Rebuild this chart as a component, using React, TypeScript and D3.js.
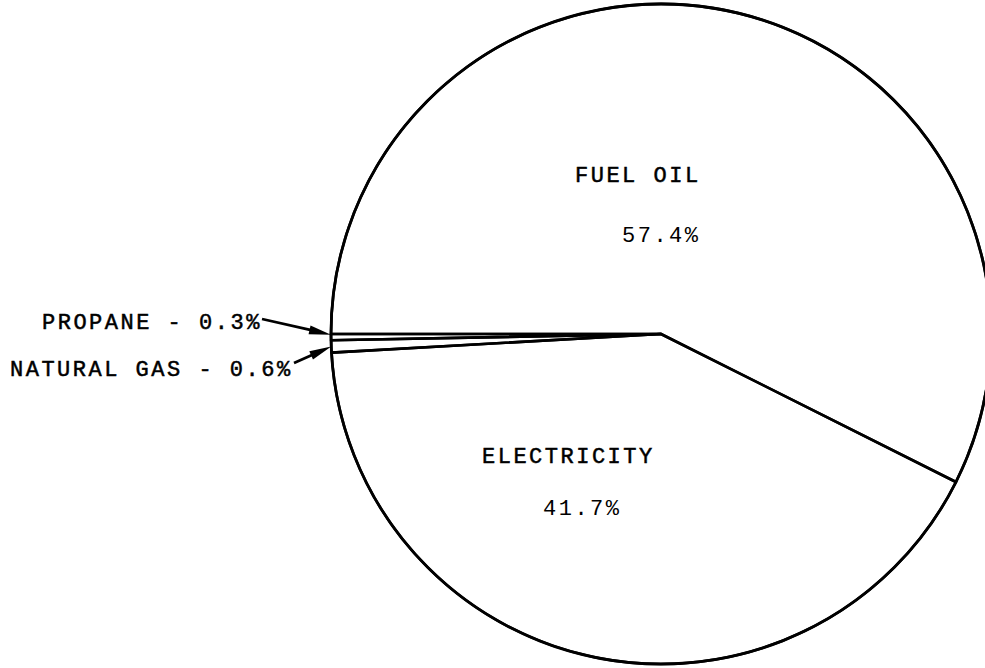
import React, { useEffect, useRef } from "react";
import * as d3 from "d3";

// fuel shares (percent)
const categories = ["FUEL OIL", "ELECTRICITY", "NATURAL GAS", "PROPANE"];
const shares = [57.4, 41.7, 0.6, 0.3];
const pctLabels = ["57.4%", "41.7%", "0.6%", "0.3%"];

const WIDTH = 985;
const HEIGHT = 668;

export default function App() {
  const svgRef = useRef<SVGSVGElement | null>(null);

  useEffect(() => {
    if (!svgRef.current) return;
    const svgEl = d3.select(svgRef.current);
    svgEl.selectAll("*").remove();

    const cx = 661;
    const cy = 334;
    const radius = 330;
    const font = "'Liberation Mono', 'DejaVu Sans Mono', monospace";

    const svg = svgEl
      .attr("width", WIDTH)
      .attr("height", HEIGHT)
      .attr("viewBox", `0 0 ${WIDTH} ${HEIGHT}`);

    svg.append("rect").attr("width", WIDTH).attr("height", HEIGHT).attr("fill", "#fff");

    const g = svg.append("g").attr("transform", `translate(${cx},${cy})`);

    // start at 9 o'clock and go clockwise, fuel oil first
    const pie = d3
      .pie<number>()
      .value((d) => d)
      .sort(null)
      .startAngle(-Math.PI / 2)
      .endAngle((3 * Math.PI) / 2);
    const arcs = pie(shares);

    const arc = d3.arc<d3.PieArcDatum<number>>().innerRadius(0).outerRadius(radius);

    g.selectAll("path.slice")
      .data(arcs)
      .enter()
      .append("path")
      .attr("class", "slice")
      .attr("d", arc)
      .attr("fill", "none")
      .attr("stroke", "#000")
      .attr("stroke-width", 2.6)
      .attr("stroke-linejoin", "round");

    g.append("circle")
      .attr("r", radius)
      .attr("fill", "none")
      .attr("stroke", "#000")
      .attr("stroke-width", 2.8);

    // typewriter look: words a bit heavier than the figures
    const textStyle = (
      sel: d3.Selection<SVGTextElement, unknown, null, undefined>,
      heavy: boolean
    ) =>
      sel
        .attr("fill", "#000")
        .attr("stroke", heavy ? "#000" : "none")
        .attr("stroke-width", 0.5)
        .style("font-family", font)
        .style("font-size", "22px")
        .style("letter-spacing", "2.5px");

    // labels inside the big slices
    const inner = [
      { text: categories[0], x: cx - 86, y: 182, heavy: true },
      { text: pctLabels[0], x: cx - 39, y: 242, heavy: false },
      { text: categories[1], x: cx - 179, y: 463, heavy: true },
      { text: pctLabels[1], x: cx - 118, y: 515, heavy: false },
    ];
    inner.forEach((d) => {
      textStyle(svg.append("text").attr("x", d.x).attr("y", d.y).text(d.text), d.heavy);
    });

    // outside labels for the tiny slices, with arrows
    const pointAt = (a: number, r: number) => [cx + r * Math.sin(a), cy - r * Math.cos(a)];
    const propane = arcs[3];
    const gas = arcs[2];

    const outer = [
      {
        text: `${categories[3]} - ${pctLabels[3]}`,
        x: 42,
        y: 329,
        tail: [262, 319],
        tip: pointAt(propane.endAngle - 0.002, radius),
      },
      {
        text: `${categories[2]} - ${pctLabels[2]}`,
        x: 10,
        y: 376,
        tail: [294, 363],
        tip: pointAt((gas.startAngle + gas.endAngle) / 2, radius),
      },
    ];

    outer.forEach((d) => {
      textStyle(svg.append("text").attr("x", d.x).attr("y", d.y).text(d.text), true);

      const [x0, y0] = d.tail;
      const [x1, y1] = d.tip;
      const len = Math.hypot(x1 - x0, y1 - y0);
      const ux = (x1 - x0) / len;
      const uy = (y1 - y0) / len;
      const headLen = 22;
      const headW = 4.5;
      const bx = x1 - ux * headLen;
      const by = y1 - uy * headLen;

      svg
        .append("line")
        .attr("x1", x0)
        .attr("y1", y0)
        .attr("x2", bx + ux * 4)
        .attr("y2", by + uy * 4)
        .attr("stroke", "#000")
        .attr("stroke-width", 2.8);

      svg
        .append("path")
        .attr(
          "d",
          `M${x1},${y1}L${bx - uy * headW},${by + ux * headW}L${bx + uy * headW},${by - ux * headW}Z`
        )
        .attr("fill", "#000");
    });
  }, []);

  return (
    <div style={{ position: "absolute", left: 0, top: 0, width: WIDTH, height: HEIGHT, background: "#fff" }}>
      <svg ref={svgRef} style={{ display: "block" }}></svg>
    </div>
  );
}
